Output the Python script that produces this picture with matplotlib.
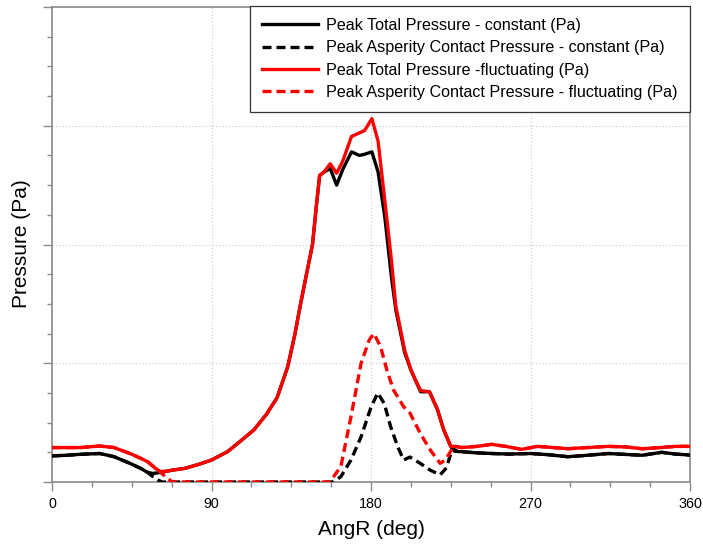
import matplotlib
matplotlib.use("Agg")
import matplotlib.pyplot as plt
from matplotlib.ticker import MultipleLocator, NullFormatter

plt.rcParams['font.family'] = ['Liberation Sans', 'DejaVu Sans']

# ---- data ----
ang_tot_c = [0, 8, 16, 27, 35, 44, 50, 54, 57, 61, 68, 75, 82, 90, 99, 106, 114, 121, 127,
             133, 137, 140, 144, 147, 149, 151, 153.5, 157, 160.6, 164, 169, 173.5, 176.4,
             180.5, 184, 187.8, 191.5, 194, 199, 202.6, 205, 208, 213, 217.5, 221, 225, 227,
             231, 240, 248, 258, 270, 280, 291, 302, 314, 324, 333, 344, 352, 360]
p_tot_c = [0.22, 0.225, 0.233, 0.24, 0.213, 0.157, 0.115, 0.08, 0.072, 0.08, 0.10, 0.115, 0.145,
           0.185, 0.255, 0.34, 0.44, 0.57, 0.71, 0.97, 1.24, 1.48, 1.78, 2.0, 2.3, 2.58, 2.61,
           2.64, 2.50, 2.63, 2.78, 2.75, 2.76, 2.78, 2.61, 2.23, 1.73, 1.45, 1.09, 0.94, 0.86,
           0.76, 0.76, 0.61, 0.44, 0.30, 0.26, 0.255, 0.245, 0.24, 0.235, 0.24, 0.23, 0.213,
           0.225, 0.24, 0.232, 0.225, 0.25, 0.235, 0.227]

ang_asp_c = [0, 8, 16, 27, 35, 44, 50, 54, 57, 60, 62, 158.6, 163, 168.7, 174.4, 180, 183.8,
             187.5, 191, 195, 198.4, 202, 207.8, 213.4, 219, 222.6, 226, 228, 231, 240, 248,
             258, 270, 280, 291, 302, 314, 324, 333, 344, 352, 360]
p_asp_c = [0.22, 0.225, 0.233, 0.24, 0.213, 0.157, 0.115, 0.08, 0.045, 0.015, 0.0, 0.0, 0.045,
           0.185, 0.38, 0.63, 0.75, 0.66, 0.47, 0.30, 0.185, 0.21, 0.157, 0.10, 0.06, 0.12,
           0.29, 0.26, 0.255, 0.245, 0.24, 0.235, 0.24, 0.23, 0.213, 0.225, 0.24, 0.232, 0.225,
           0.25, 0.235, 0.227]

ang_tot_f = [0, 8, 16, 27, 35, 44, 50, 54, 58, 61, 64, 68, 75, 82, 90, 99, 106, 114, 121, 127,
             133, 137, 140, 144, 147, 149, 151, 153.5, 157, 160.6, 164, 169, 173.5, 176.4,
             180.5, 184, 187.8, 191.5, 194, 199, 202.6, 205, 208, 213, 217.5, 221, 225, 227,
             231, 240, 248, 256, 265, 274, 283, 291, 302, 314, 324, 333, 343, 352, 360]
p_tot_f = [0.29, 0.29, 0.29, 0.303, 0.29, 0.24, 0.20, 0.17, 0.12, 0.088, 0.09, 0.10, 0.115,
           0.145, 0.185, 0.255, 0.34, 0.44, 0.57, 0.71, 0.97, 1.24, 1.48, 1.78, 2.0, 2.3, 2.58,
           2.61, 2.68, 2.60, 2.70, 2.91, 2.94, 2.96, 3.06, 2.87, 2.37, 1.87, 1.48, 1.11, 0.94,
           0.86, 0.77, 0.76, 0.61, 0.44, 0.30, 0.30, 0.29, 0.30, 0.317, 0.30, 0.275, 0.30,
           0.29, 0.28, 0.29, 0.30, 0.295, 0.28, 0.29, 0.30, 0.30]

ang_asp_f = [0, 8, 16, 27, 35, 44, 50, 54, 58, 61, 64, 67, 68, 156.7, 163, 168.7, 174.4, 179,
             181.6, 185.4, 189, 192.7, 198.4, 202, 207.8, 213.4, 219, 222, 226, 228, 231, 240,
             248, 256, 265, 274, 283, 291, 302, 314, 324, 333, 343, 352, 360]
p_asp_f = [0.29, 0.29, 0.29, 0.303, 0.29, 0.24, 0.20, 0.17, 0.12, 0.085, 0.045, 0.01, 0.0,
           0.0, 0.13, 0.55, 1.0, 1.196, 1.25, 1.14, 0.94, 0.775, 0.634, 0.58, 0.41, 0.27,
           0.157, 0.186, 0.284, 0.30, 0.29, 0.30, 0.317, 0.30, 0.275, 0.30, 0.29, 0.28, 0.29,
           0.30, 0.295, 0.28, 0.29, 0.30, 0.30]

labels = ["Peak Total Pressure - constant (Pa)",
          "Peak Asperity Contact Pressure - constant (Pa)",
          "Peak Total Pressure -fluctuating (Pa)",
          "Peak Asperity Contact Pressure - fluctuating (Pa)"]
x_ticks = [0, 90, 180, 270, 360]

# ---- figure ----
fig = plt.figure(figsize=(7.03, 5.44), dpi=100)
ax = fig.add_axes([52 / 703, 62 / 544, 638 / 703, 475 / 544])

lw = 2.4
dash = (2.7, 1.5)
ax.plot(ang_tot_c, p_tot_c, color='black', lw=lw, label=labels[0], zorder=3)
ax.plot(ang_asp_c, p_asp_c, color='black', lw=lw, ls=(0, dash), label=labels[1], zorder=3)
ax.plot(ang_tot_f, p_tot_f, color='#ff0000', lw=lw, label=labels[2], zorder=4)
ax.plot(ang_asp_f, p_asp_f, color='#ff0000', lw=lw, ls=(0, dash), label=labels[3], zorder=4)

ax.set_xlim(0, 360)
ax.set_ylim(0, 4)
ax.set_xticks(x_ticks)
ax.set_xticklabels([str(v) for v in x_ticks], fontsize=10.3)
ax.xaxis.set_minor_locator(MultipleLocator(22.5))
ax.yaxis.set_major_locator(MultipleLocator(1))
ax.yaxis.set_minor_locator(MultipleLocator(0.25))
ax.yaxis.set_major_formatter(NullFormatter())

grey = '#8a8a8a'
ax.tick_params(axis='both', which='major', direction='out', length=6.5, width=1, color=grey)
ax.tick_params(axis='both', which='minor', direction='out', length=3.7, width=1, color=grey)
ax.tick_params(axis='x', which='major', pad=4.5)
for s in ax.spines.values():
    s.set_color(grey)
    s.set_linewidth(1.2)

ax.grid(True, which='major', ls=(0, (1, 2)), color='#c8c8c8', lw=0.8)
ax.set_axisbelow(True)

ax.set_xlabel("AngR (deg)", fontsize=15)
ax.set_ylabel("Pressure (Pa)", fontsize=15)
ax.xaxis.set_label_coords(0.5, -0.079)
ax.yaxis.set_label_coords(-0.033, 0.501)

leg = ax.legend(loc='upper right', bbox_to_anchor=(1.0, 1.002), borderaxespad=0,
                fontsize=11.6, frameon=True, fancybox=False, framealpha=1,
                handlelength=3.42, handletextpad=0.55, labelspacing=0.45,
                borderpad=0.75)
leg.get_frame().set_edgecolor('#333333')
leg.get_frame().set_linewidth(0.9)

fig.savefig("out.png", dpi=100)
